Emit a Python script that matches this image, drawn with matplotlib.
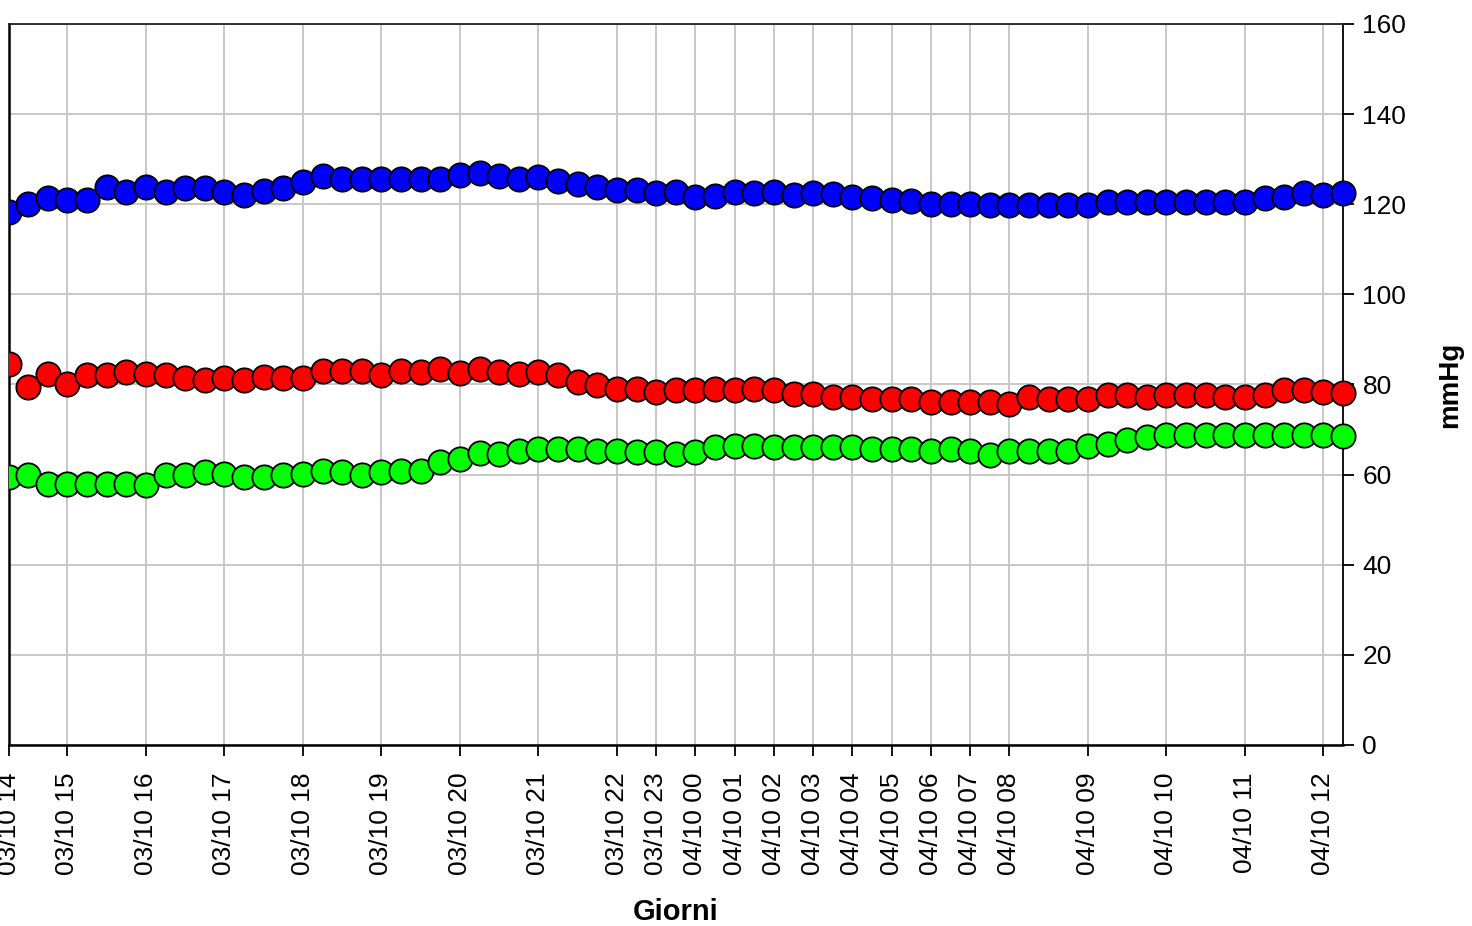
import matplotlib
matplotlib.use("Agg")
import matplotlib.pyplot as plt
from matplotlib.patches import Rectangle

plt.rcParams['font.family'] = ['Liberation Sans', 'DejaVu Sans']

# pressione sistolica (blu), diastolica (rosso), frequenza (verde) - one reading per index
sistolica = [118.3, 120.1, 121.3, 120.9, 120.9, 123.9, 122.7, 123.9, 122.7, 123.7,
             123.7, 122.7, 122.0, 123.0, 123.5, 125.0, 126.2, 125.5, 125.5, 125.5,
             125.5, 125.5, 125.5, 126.4, 127.0, 126.2, 125.5, 126.1, 125.2, 124.6,
             123.9, 123.1, 123.1, 122.4, 122.7, 121.6, 121.8, 122.7, 122.5, 122.7,
             122.0, 122.4, 122.2, 121.6, 121.3, 120.9, 120.7, 120.1, 120.1, 120.1,
             119.8, 119.8, 119.8, 119.8, 119.8, 119.8, 120.5, 120.5, 120.5, 120.5,
             120.5, 120.5, 120.5, 120.5, 121.3, 121.6, 122.4, 122.0, 122.4]
diastolica = [84.6, 79.4, 82.4, 80.1, 82.2, 82.2, 82.7, 82.4, 82.0, 81.4,
              80.9, 81.4, 81.0, 81.6, 81.4, 81.4, 83.1, 82.9, 82.9, 82.2,
              82.9, 82.7, 83.5, 82.5, 83.5, 82.7, 82.4, 82.7, 82.0, 80.5,
              79.8, 79.0, 79.0, 78.3, 78.7, 78.7, 79.0, 78.7, 79.0, 78.7,
              77.9, 77.9, 77.2, 77.2, 76.8, 76.8, 76.8, 76.1, 76.1, 76.2,
              76.1, 75.7, 77.2, 76.8, 76.8, 76.8, 77.6, 77.6, 77.2, 77.6,
              77.6, 77.6, 77.2, 77.2, 77.6, 78.7, 78.7, 78.3, 78.1]
frequenza = [59.4, 59.8, 57.9, 57.9, 57.9, 57.9, 57.9, 57.6, 59.8, 59.8,
             60.5, 60.1, 59.4, 59.4, 59.8, 60.1, 60.9, 60.5, 59.8, 60.5,
             60.9, 60.9, 62.7, 63.5, 64.8, 64.6, 65.3, 65.7, 65.7, 65.7,
             65.3, 65.3, 65.0, 65.0, 64.6, 65.0, 66.1, 66.4, 66.4, 66.2,
             66.1, 66.1, 66.1, 66.1, 65.7, 65.7, 65.7, 65.3, 65.7, 65.2,
             64.4, 65.3, 65.3, 65.3, 65.3, 66.4, 66.8, 67.6, 68.3, 68.7,
             68.7, 68.7, 68.7, 68.7, 68.7, 68.7, 68.7, 68.7, 68.5]

tick_idx = [0, 3, 7, 11, 15, 19, 23, 27, 31, 33, 35, 37, 39, 41, 43, 45, 47,
            49, 51, 55, 59, 63, 67]
tick_labels = ['03/10 14', '03/10 15', '03/10 16', '03/10 17', '03/10 18',
               '03/10 19', '03/10 20', '03/10 21', '03/10 22', '03/10 23',
               '04/10 00', '04/10 01', '04/10 02', '04/10 03', '04/10 04',
               '04/10 05', '04/10 06', '04/10 07', '04/10 08', '04/10 09',
               '04/10 10', '04/10 11', '04/10 12']

fig = plt.figure(figsize=(14.72, 9.26), dpi=100)
ax = fig.add_axes([0.0058, 0.1955, 0.9066, 0.7786])

x = list(range(len(sistolica)))
clip = Rectangle((0, -0.05), 1.05, 1.1, transform=ax.transAxes)
for serie, col in [(frequenza, '#00ff00'), (diastolica, '#ff0000'), (sistolica, '#0000ff')]:
    line, = ax.plot(x, serie, linestyle='none', marker='o', markersize=17.5,
                    markerfacecolor=col, markeredgecolor='black', markeredgewidth=1.3,
                    zorder=3)
    line.set_clip_path(clip)

ax.set_xlim(0, len(sistolica) - 1)
ax.set_ylim(0, 160)
ax.set_yticks(range(0, 161, 20))
ax.set_xticks(tick_idx)
ax.set_xticklabels(tick_labels, rotation=90, fontsize=19)
ax.yaxis.tick_right()
ax.yaxis.set_label_position('right')
ax.tick_params(axis='y', labelsize=19, length=8, width=1.3, pad=6, direction='out')
ax.tick_params(axis='x', length=8, width=1.3, pad=12, direction='out')

ax.grid(True, color='#c8c8c8', linewidth=1.4, zorder=0)
ax.set_axisbelow(True)

for side in ['left', 'bottom']:
    ax.spines[side].set_linewidth(1.8)
    ax.spines[side].set_color('black')
ax.spines['right'].set_linewidth(1.3)
ax.spines['top'].set_linewidth(1.3)
ax.spines['top'].set_color('#222222')

ax.set_xlabel('Giorni', fontsize=21, fontweight='bold', labelpad=16)
ax.set_ylabel('mmHg', fontsize=20, fontweight='bold', labelpad=22, rotation=90)

fig.savefig('out.png', dpi=100)
